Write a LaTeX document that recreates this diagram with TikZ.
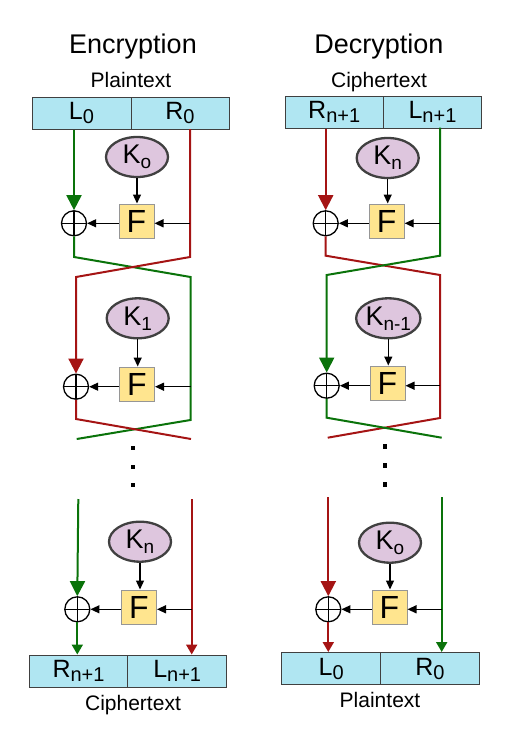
\documentclass[tikz,border=0pt]{standalone}
\usepackage{fontspec}
\setmainfont{Liberation Sans}
\usetikzlibrary{shapes.geometric,arrows.meta}
\definecolor{lgreen}{RGB}{10,115,10}
\definecolor{lred}{RGB}{165,20,20}
\definecolor{cyanfill}{RGB}{176,230,242}
\definecolor{keyfill}{RGB}{222,198,222}
\definecolor{ffill}{RGB}{255,229,143}
\definecolor{boxgray}{RGB}{64,64,64}
\definecolor{fgray}{RGB}{150,150,150}
\newcommand\LRlab[2]{\fontsize{25}{25}\selectfont #1\raisebox{-4pt}{\fontsize{20}{20}\selectfont #2}}
\newcommand\Klab[1]{\fontsize{27}{27}\selectfont K\raisebox{-5pt}{\fontsize{19}{19}\selectfont #1}}
\begin{document}
\begin{tikzpicture}[x=1pt,y=-1pt,
  half/.style={draw=boxgray, line width=1pt, fill=cyanfill, minimum height=32pt, inner sep=0pt},
  key/.style={ellipse, draw=boxgray, line width=2.3pt, fill=keyfill, minimum width=62pt, minimum height=40pt, inner sep=0pt},
  fbox/.style={draw=fgray, line width=1pt, fill=ffill, minimum width=35pt, minimum height=34pt, inner sep=0pt, font=\fontsize{32}{32}\selectfont},
  xorc/.style={circle, draw=black, line width=1.3pt, minimum size=25pt, inner sep=0pt,
    path picture={\draw[line width=1.3pt] (path picture bounding box.north) -- (path picture bounding box.south)
      (path picture bounding box.west) -- (path picture bounding box.east);}},
  gline/.style={draw=lgreen, line width=2pt},
  rline/.style={draw=lred, line width=2pt},
  bigtip/.style={-{Triangle[width=15pt,length=15pt]}},
  smalltip/.style={-{Triangle[width=11pt,length=10pt]}},
  blk/.style={draw=black, line width=1.3pt, -{Triangle[width=8pt,length=9pt]}},
  dotsq/.style={fill=black, minimum size=4.5pt, inner sep=0pt},
  title/.style={font=\fontsize{27}{30}\selectfont, anchor=base},
  capt/.style={font=\fontsize{21}{24}\selectfont, anchor=base}
]
\useasboundingbox (0,0) rectangle (511,747);

% ================= Encryption =================
\node[title] (etitle) at (133,53.3) {Encryption};
\node[capt] (ecap1) at (131,87) {Plaintext};
\node[half, minimum width=99pt] (eL0) at (81.5,113) {\LRlab{L}{0}};
\node[half, minimum width=98pt] (eR0) at (180,113) {\LRlab{R}{0}};

% round 1
\node[key] (ek0) at (137,157) {\Klab{o}};
\node[fbox] (ef0) at (136.5,221) {F};
\node[xorc] (ex0) at (74,223.3) {};
% round 2
\node[key] (ek1) at (137.7,318.3) {\Klab{1}};
\node[fbox] (ef1) at (137,384) {F};
\node[xorc] (ex1) at (76,386.7) {};
% dots
\node[dotsq] (ed1) at (133,448) {};
\node[dotsq] (ed2) at (133,467) {};
\node[dotsq] (ed3) at (133,485) {};
% round 3
\node[key] (ek2) at (140,541.7) {\Klab{n}};
\node[fbox] (ef2) at (139,607) {F};
\node[xorc] (ex2) at (77.3,609.3) {};
% output
\node[half, minimum width=98.4pt] (eC1) at (78.5,671) {\LRlab{R}{n+1}};
\node[half, minimum width=99pt] (eC2) at (177.2,671) {\LRlab{L}{n+1}};
\node[capt] (ecap2) at (133,710) {Ciphertext};

\coordinate (eg1) at (74,257);
\coordinate (eg2) at (190.5,277);
\coordinate (eg3) at (190.5,420);
\coordinate (eg4) at (76.7,439);
\coordinate (er0) at (190,129);
\coordinate (er1) at (190,257);
\coordinate (er2) at (76,277);
\coordinate (er3) at (76,419);
\coordinate (er4) at (191,439);
\coordinate (eg5) at (78.3,499);
\coordinate (er5) at (191.7,499);

\draw[gline,bigtip] (ex0 |- eL0.south) -- (ex0.north);
\draw[gline] (ex0.south) -- (eg1) -- (eg2) -- (eg3) -- (eg4);
\draw[rline,bigtip] (er0) -- (er1) -- (er2) -- (ex1.north);
\draw[rline] (ex1.south) -- (er3) -- (er4);
\draw[gline,bigtip] (eg5) -- (ex2.north);
\draw[gline,smalltip] (ex2.south) -- (ex2 |- eC1.north);
\draw[rline,smalltip] (er5) -- (er5 |- eC2.north);

\draw[blk] (ek0.south) -- (ek0.south |- ef0.north);
\draw[blk] (er0 |- ex0) -- (ef0.east |- ex0);
\draw[blk] (ef0.west |- ex0) -- (ex0.east);
\draw[blk] (ek1.south) -- (ek1.south |- ef1.north);
\draw[blk] (eg2 |- ex1) -- (ef1.east |- ex1);
\draw[blk] (ef1.west |- ex1) -- (ex1.east);
\draw[blk] (ek2.south) -- (ek2.south |- ef2.north);
\draw[blk] (er5 |- ex2) -- (ef2.east |- ex2);
\draw[blk] (ef2.west |- ex2) -- (ex2.east);

% ================= Decryption =================
\node[title] (dtitle) at (379,53.3) {Decryption};
\node[capt] (dcap1) at (379,87) {Ciphertext};
\node[half, minimum width=98.3pt] (dR) at (334.2,112) {\LRlab{R}{n+1}};
\node[half, minimum width=98.4pt] (dL) at (432.5,112) {\LRlab{L}{n+1}};

\node[key] (dk0) at (387.7,158) {\Klab{n}};
\node[fbox] (df0) at (386.7,221) {F};
\node[xorc] (dx0) at (325.7,223.3) {};

\node[key] (dk1) at (388.3,318.3) {\Klab{n-1}};
\node[fbox] (df1) at (387.5,383) {F};
\node[xorc] (dx1) at (326.7,385.7) {};

\node[dotsq] (dd1) at (385,446.7) {};
\node[dotsq] (dd2) at (385,465.7) {};
\node[dotsq] (dd3) at (385,484.3) {};

\node[key] (dk2) at (390,542.7) {\Klab{o}};
\node[fbox] (df2) at (389.5,607) {F};
\node[xorc] (dx2) at (328.3,609.3) {};

\node[half, minimum width=99pt] (dP1) at (331.2,668.5) {\LRlab{L}{0}};
\node[half, minimum width=98.3pt] (dP2) at (429.85,668.5) {\LRlab{R}{0}};
\node[capt] (dcap2) at (380,707.7) {Plaintext};

\coordinate (dr1) at (325.7,255.7);
\coordinate (dr2) at (440,275);
\coordinate (dr3) at (440,418);
\coordinate (dr4) at (327.7,437.7);
\coordinate (dg0) at (440,127.7);
\coordinate (dg1) at (440,255.7);
\coordinate (dg2) at (326.7,275);
\coordinate (dg3) at (326.7,417.7);
\coordinate (dg4) at (441.7,437.7);
\coordinate (dr5) at (328.3,497.3);
\coordinate (dg5) at (441.7,497.3);

\draw[rline,bigtip] (dx0 |- dR.south) -- (dx0.north);
\draw[rline] (dx0.south) -- (dr1) -- (dr2) -- (dr3) -- (dr4);
\draw[gline,bigtip] (dg0) -- (dg1) -- (dg2) -- (dx1.north);
\draw[gline] (dx1.south) -- (dg3) -- (dg4);
\draw[rline,bigtip] (dr5) -- (dx2.north);
\draw[rline,smalltip] (dx2.south) -- (dx2 |- dP1.north);
\draw[gline,smalltip] (dg5) -- (dg5 |- dP2.north);

\draw[blk] (dk0.south) -- (dk0.south |- df0.north);
\draw[blk] (dg0 |- dx0) -- (df0.east |- dx0);
\draw[blk] (df0.west |- dx0) -- (dx0.east);
\draw[blk] (dk1.south) -- (dk1.south |- df1.north);
\draw[blk] (dr2 |- dx1) -- (df1.east |- dx1);
\draw[blk] (df1.west |- dx1) -- (dx1.east);
\draw[blk] (dk2.south) -- (dk2.south |- df2.north);
\draw[blk] (dg5 |- dx2) -- (df2.east |- dx2);
\draw[blk] (df2.west |- dx2) -- (dx2.east);
\end{tikzpicture}
\end{document}
